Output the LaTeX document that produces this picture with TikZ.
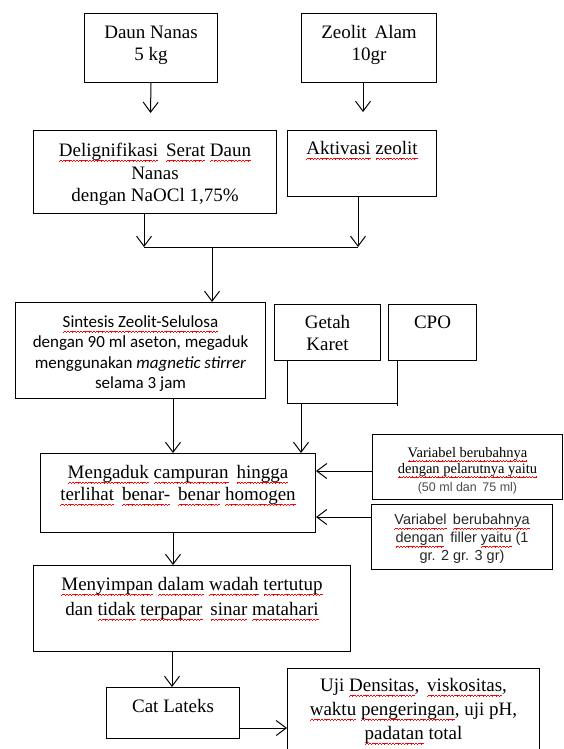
\documentclass[tikz,border=0pt]{standalone}
\usepackage{fontspec}
\setmainfont{Liberation Serif}
\newfontfamily\calfont{Carlito}
\newfontfamily\arialfont{Liberation Sans}
\usetikzlibrary{arrows.meta}
\newsavebox\sqbox
\newcommand\wv{\hbox{\rule[-5pt]{0.8pt}{0.8pt}\rule[-4.4pt]{0.8pt}{0.8pt}\rule[-3.8pt]{0.8pt}{0.8pt}\rule[-4.4pt]{0.8pt}{0.8pt}}}
\newcommand\sq[1]{\sbox\sqbox{#1}\leavevmode\rlap{\textcolor{red}{\hbox to \wd\sqbox{\xleaders\wv\hfil}}}\usebox\sqbox}
\newcommand\tm{\fontsize{19}{22}\selectfont}
\newcommand\bxt[5]{\begin{minipage}[c][#2pt][t]{#1pt}\centering#4\rule{0pt}{#3pt}#5\par\end{minipage}}
\tikzset{
  box/.style={draw, line width=1pt, inner sep=0pt, anchor=north west},
  conn/.style={line width=1pt},
  arr/.style={conn, -{Straight Barb[length=10pt,width=15pt]}}
}
\begin{document}
\begin{tikzpicture}[x=1pt,y=-1pt]
\useasboundingbox (0,0) rectangle (563,749);
% boxes
\node[box] (daun) at (84,13) {\bxt{133}{69}{25}{\tm}{Daun Nanas\\5 kg}};
\node[box] (zeolit) at (301,13) {\bxt{135}{69}{25}{\tm}{Zeolit\, Alam\\10gr}};
\node[box] (delig) at (33,130) {\bxt{243}{83}{26}{\fontsize{19}{22.5}\selectfont}{\sq{Delignifikasi}\, \sq{Serat} \sq{Daun}\\Nanas\\dengan NaOCl 1,75\%}};
\node[box] (aktiv) at (287,130) {\bxt{149}{66}{24}{\tm}{\sq{Aktivasi} \sq{zeolit}}};
\node[box] (sint) at (15,302) {\bxt{250}{96}{25}{\calfont\fontsize{17}{20.3}\selectfont}{\sq{Sintesis Zeolit-Selulosa}\\dengan 90 ml aseton, megaduk\\menggunakan \textit{magnetic stirrer}\\selama 3 jam}};
\node[box] (getah) at (274,304) {\bxt{106}{56}{24}{\tm}{Getah\\Karet}};
\node[box] (cpo) at (388,304) {\bxt{88}{56}{24}{\tm}{CPO}};
\node[box] (mix) at (40,453) {\bxt{275}{79}{25}{\tm}{\sq{Mengaduk} \sq{campuran}\, \sq{hingga}\\\sq{terlihat}\, \sq{benar-}\, \sq{benar} \sq{homogen}}};
\node[box] (var1) at (372,434) {\bxt{190}{65}{22.5}{\fontsize{14.5}{16}\selectfont}{\sq{Variabel berubahnya}\\\sq{dengan pelarutnya yaitu}\\[2.5pt]{\arialfont\fontsize{12.5}{14}\selectfont\color{black!70}(50 ml dan\, 75 ml)}}};
\node[box] (var2) at (371,504) {\bxt{181}{65}{20}{\arialfont\fontsize{14.5}{18}\selectfont\color{black!85}}{\sq{Variabel}\, \sq{berubahnya}\\\sq{dengan}\, filler \sq{yaitu} (1\\gr. 2 gr. 3 gr)}};
\node[box] (simpan) at (33,565) {\bxt{317}{86}{25}{\fontsize{19}{25}\selectfont}{\sq{Menyimpan} \sq{dalam} \sq{wadah} \sq{tertutup}\\dan \sq{tidak} \sq{terpapar}\, \sq{sinar} \sq{matahari}}};
\node[box] (cat) at (106,687) {\bxt{133}{51}{25}{\tm}{Cat Lateks}};
\node[box] (uji) at (287,668) {\bxt{252}{95}{23}{\fontsize{19}{24}\selectfont}{Uji \sq{Densitas},\, \sq{viskositas},\\\sq{waktu} \sq{pengeringan}, uji pH,\\\sq{padatan} total}};
% coordinates
\coordinate (t1) at (150.5,113);
\coordinate (t2) at (363,112);
\coordinate (m1) at (144,247);
\coordinate (m2) at (358,247);
\coordinate (m3) at (212,247);
\coordinate (s1) at (173,0);
\coordinate (g1) at (287,403);
\coordinate (g2) at (397,403);
\coordinate (g3) at (397,406);
\coordinate (g4) at (301,403);
\coordinate (v1) at (0,471);
\coordinate (v2) at (0,517);
\coordinate (d2) at (172,0);
\coordinate (c1) at (0,728);
% connectors
\draw[arr] (daun.south) -- (t1);
\draw[arr] (t2 |- zeolit.south) -- (t2);
\draw[arr] (m1 |- delig.south) -- (m1);
\draw[arr] (m2 |- aktiv.south) -- (m2);
\draw[conn] (m1) -- (m2);
\draw[arr] (m3) -- (m3 |- sint.north);
\draw[arr] (s1 |- sint.south) -- (s1 |- mix.north);
\draw[conn] (g1 |- getah.south) -- (g1) -- (g2);
\draw[conn] (g2 |- cpo.south) -- (g3);
\draw[arr] (g4) -- (g4 |- mix.north);
\draw[arr] (var1.west |- v1) -- (mix.east |- v1);
\draw[arr] (var2.west |- v2) -- (mix.east |- v2);
\draw[arr] (s1 |- mix.south) -- (s1 |- simpan.north);
\draw[arr] (d2 |- simpan.south) -- (d2 |- cat.north);
\draw[arr] (cat.east |- c1) -- (uji.west |- c1);
\end{tikzpicture}
\end{document}
